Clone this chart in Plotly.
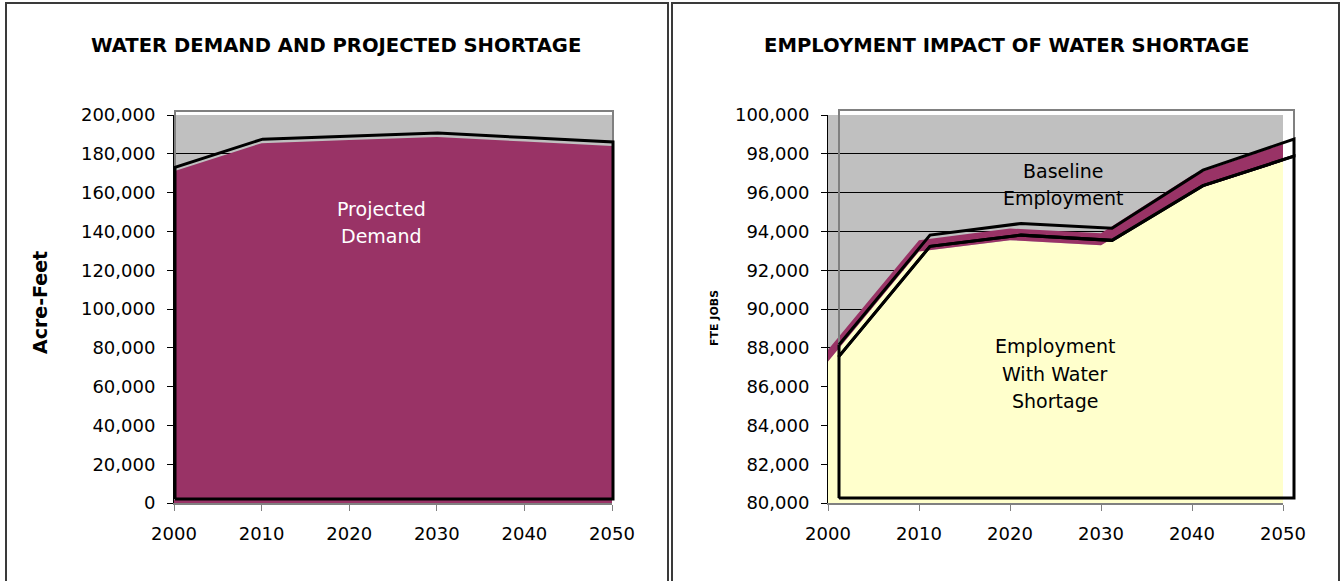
import plotly.graph_objects as go

W, H = 1343, 581

# ---- data ----
years = [2000, 2010, 2020, 2030, 2040, 2050]
water_demand = [171000, 185500, 187100, 188600, 186300, 184000]
baseline_jobs = [87900, 93550, 94150, 93900, 96900, 98500]
shortage_jobs = [87300, 92970, 93550, 93280, 96100, 97620]

demand_ticks = [0, 20000, 40000, 60000, 80000, 100000, 120000, 140000, 160000, 180000, 200000]
jobs_ticks = [80000, 82000, 84000, 86000, 88000, 90000, 92000, 94000, 96000, 98000, 100000]
year_ticks = [2000, 2010, 2020, 2030, 2040, 2050]

# ---- styling ----
FONT = "DejaVu Sans"
MAGENTA = "#993366"
YELLOW = "#FFFFCC"
PLOT_GRAY = "#C0C0C0"
AXIS_GRAY = "#808080"
FRAME = "#3a3a3a"


def fx(px):
    return px / W


def fy(py):
    return 1 - py / H


def place(box, xr, yr, pad=0):
    """Domain/range for an axis pair whose data range fills the pixel box
    (left, top, right, bottom), optionally padded by `pad` pixels."""
    left, top, right, bottom = box
    xs = (xr[1] - xr[0]) / (right - left)
    ys = (yr[1] - yr[0]) / (bottom - top)
    xdom = [fx(left - pad), fx(right + pad)]
    ydom = [fy(bottom + pad), fy(top - pad)]
    xrng = [xr[0] - pad * xs, xr[1] + pad * xs]
    yrng = [yr[0] - pad * ys, yr[1] + pad * ys]
    return xdom, xrng, ydom, yrng


# plot boxes in pixels, plus the offset "shadow" layer for outlines/border
L_BOX = (174, 115, 612, 503)
L_SHIFT = (175, 111, 613, 499)
R_BOX = (828, 115, 1283, 503)
R_SHIFT = (839, 110, 1294, 498)

x_rng = [year_ticks[0], year_ticks[-1]]
d_rng = [demand_ticks[0], demand_ticks[-1]]
j_rng = [jobs_ticks[0], jobs_ticks[-1]]

fig = go.Figure()

# ---- left chart: water demand ----
fig.add_trace(go.Scatter(
    x=years, y=water_demand, mode="lines", fill="tozeroy",
    fillcolor=MAGENTA, line=dict(width=0, color=MAGENTA),
    xaxis="x", yaxis="y", hoverinfo="skip", showlegend=False))

fig.add_trace(go.Scatter(
    x=[years[0]] + years + [years[-1], years[0]],
    y=[demand_ticks[0]] + water_demand + [demand_ticks[0], demand_ticks[0]],
    mode="lines", line=dict(width=3, color="black"),
    xaxis="x2", yaxis="y2", hoverinfo="skip", showlegend=False))

# ---- right chart: employment ----
fig.add_trace(go.Scatter(
    x=years, y=shortage_jobs, mode="lines", fill="tozeroy",
    fillcolor=YELLOW, line=dict(width=0, color=YELLOW),
    xaxis="x3", yaxis="y3", hoverinfo="skip", showlegend=False))
fig.add_trace(go.Scatter(
    x=years, y=baseline_jobs, mode="lines", fill="tonexty",
    fillcolor=MAGENTA, line=dict(width=0, color=MAGENTA),
    xaxis="x3", yaxis="y3", hoverinfo="skip", showlegend=False))

fig.add_trace(go.Scatter(
    x=years + years[::-1] + [years[0]],
    y=baseline_jobs + shortage_jobs[::-1] + [baseline_jobs[0]],
    mode="lines", line=dict(width=3, color="black"),
    xaxis="x4", yaxis="y4", hoverinfo="skip", showlegend=False))
fig.add_trace(go.Scatter(
    x=[years[0]] + years + [years[-1], years[0]],
    y=[jobs_ticks[0]] + shortage_jobs + [jobs_ticks[0], jobs_ticks[0]],
    mode="lines", line=dict(width=3, color="black"),
    xaxis="x4", yaxis="y4", hoverinfo="skip", showlegend=False))

# ---- axes ----
tick_font = dict(family=FONT, size=18, color="black")


def base_axes(box, yr, yticks):
    xdom, xrng, ydom, yrng = place(box, x_rng, yr)
    xa = dict(domain=xdom, range=xrng, tickvals=year_ticks, tickformat="d",
              ticks="outside", ticklen=6, tickwidth=1, tickcolor=AXIS_GRAY,
              showline=True, linecolor=AXIS_GRAY, linewidth=2,
              showgrid=False, zeroline=False, tickfont=tick_font,
              ticklabelstandoff=7, fixedrange=True, automargin=False)
    ya = dict(domain=ydom, range=yrng, tickvals=yticks, tickformat=",d",
              ticks="outside", ticklen=6, tickwidth=1, tickcolor="black",
              showline=True, linecolor="black", linewidth=1,
              showgrid=True, gridcolor="black", gridwidth=1,
              zeroline=False, tickfont=tick_font, ticklabelstandoff=8,
              fixedrange=True, automargin=False)
    return xa, ya


def shadow_axes(box, yr):
    xdom, xrng, ydom, yrng = place(box, x_rng, yr, pad=6)
    hidden = dict(visible=False, showgrid=False, zeroline=False,
                  fixedrange=True, automargin=False)
    return dict(hidden, domain=xdom, range=xrng), dict(hidden, domain=ydom, range=yrng)


xa1, ya1 = base_axes(L_BOX, d_rng, demand_ticks)
xa2, ya2 = shadow_axes(L_SHIFT, d_rng)
xa3, ya3 = base_axes(R_BOX, j_rng, jobs_ticks)
xa4, ya4 = shadow_axes(R_SHIFT, j_rng)

fig.update_layout(
    xaxis=dict(xa1, anchor="y"), yaxis=dict(ya1, anchor="x"),
    xaxis2=dict(xa2, anchor="y2"), yaxis2=dict(ya2, anchor="x2"),
    xaxis3=dict(xa3, anchor="y3"), yaxis3=dict(ya3, anchor="x3"),
    xaxis4=dict(xa4, anchor="y4"), yaxis4=dict(ya4, anchor="x4"),
)

# ---- shapes: plot backgrounds, offset plot borders, panel frames ----
shapes = []
for xr_, yr_ in (("x", "y"), ("x3", "y3")):
    shapes.append(dict(type="rect", xref=f"{xr_} domain", yref=f"{yr_} domain",
                       x0=0, x1=1, y0=0, y1=1, fillcolor=PLOT_GRAY,
                       line=dict(width=0), layer="below"))
for xr_, yr_, rng in (("x2", "y2", d_rng), ("x4", "y4", j_rng)):
    shapes.append(dict(type="rect", xref=xr_, yref=yr_,
                       x0=x_rng[0], x1=x_rng[1], y0=rng[0], y1=rng[1],
                       fillcolor="rgba(0,0,0,0)",
                       line=dict(width=2, color=AXIS_GRAY), layer="below"))


def frame(left, right, top=3, bottom=640):
    return dict(type="path", xref="paper", yref="paper",
                path=(f"M {fx(left)} {fy(bottom)} L {fx(left)} {fy(top)} "
                      f"L {fx(right)} {fy(top)} L {fx(right)} {fy(bottom)}"),
                line=dict(width=2, color=FRAME))


shapes.append(frame(6, 668))
shapes.append(frame(672, 1339))

# ---- text ----
ann = []


def text(px, py, s, size=18, color="black", angle=0):
    ann.append(dict(x=fx(px), y=fy(py), xref="paper", yref="paper", text=s,
                    showarrow=False, xanchor="center", yanchor="middle",
                    textangle=angle,
                    font=dict(family=FONT, size=size, color=color)))


text(336, 45, "<b>WATER DEMAND AND PROJECTED SHORTAGE</b>", size=19.6)
text(1006, 45, "<b>EMPLOYMENT IMPACT OF WATER SHORTAGE</b>", size=19.6)
text(40, 303, "<b>Acre-Feet</b>", size=19, angle=-90)
text(714, 318, "<b>FTE JOBS</b>", size=11, angle=-90)

for i, line in enumerate(["Projected", "Demand"]):
    text(381, 209 + 27 * i, line, size=19, color="white")
for i, line in enumerate(["Baseline", "Employment"]):
    text(1063, 171 + 27 * i, line, size=19)
for i, line in enumerate(["Employment", "With Water", "Shortage"]):
    text(1055, 346 + 27.5 * i, line, size=19)

fig.update_layout(
    width=W, height=H, autosize=False,
    margin=dict(l=0, r=0, t=0, b=0, pad=0, autoexpand=False),
    paper_bgcolor="white", plot_bgcolor="rgba(0,0,0,0)",
    font=dict(family=FONT, color="black"),
    shapes=shapes, annotations=ann, showlegend=False,
)

fig.write_html("out.html")
